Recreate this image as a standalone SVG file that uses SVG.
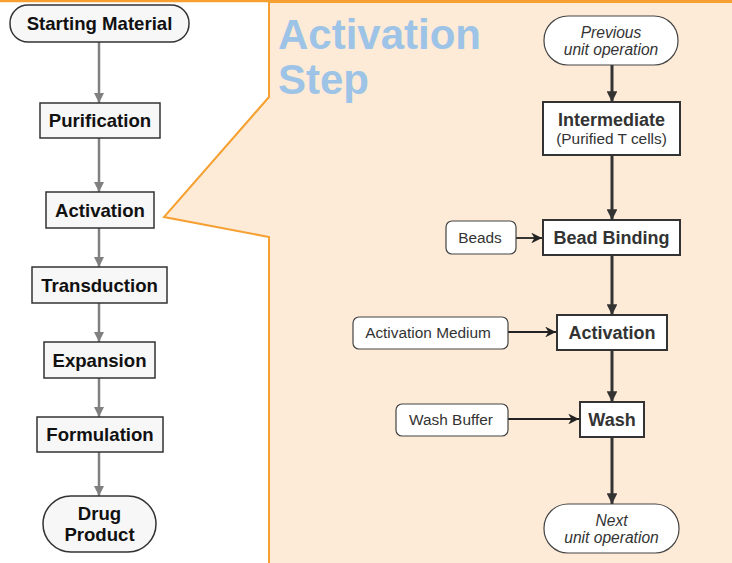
<svg xmlns="http://www.w3.org/2000/svg" width="732" height="563" viewBox="0 0 732 563">
<defs>
<marker id="ag" viewBox="0 0 10 10" refX="10" refY="5" markerWidth="4" markerHeight="4" orient="auto" markerUnits="strokeWidth"><path d="M0,0 L10,5 L0,10 z" fill="#808080"/></marker>
<marker id="ad" viewBox="0 0 10 10" refX="10" refY="5" markerWidth="3.6" markerHeight="3.6" orient="auto" markerUnits="strokeWidth"><path d="M0,0 L10,5 L0,10 z" fill="#333"/></marker>
<marker id="ah" viewBox="0 0 10 10" refX="10" refY="5" markerWidth="6" markerHeight="6" orient="auto" markerUnits="strokeWidth"><path d="M0,0 L10,5 L0,10 L3,5 z" fill="#222"/></marker>
</defs>
<style>
.ln{fill:#f7f7f7;stroke:#333;stroke-width:1.5}
.lt{font-family:"Liberation Sans",Arial,sans-serif;font-weight:bold;font-size:18.6px;fill:#111;text-anchor:middle}
.rn{fill:#fff;stroke:#333;stroke-width:2}
.rs{fill:#fff;stroke:#444;stroke-width:1.2}
.rt{font-family:"Liberation Sans",Arial,sans-serif;font-weight:bold;font-size:18px;fill:#333;text-anchor:middle}
.st{font-family:"Liberation Sans",Arial,sans-serif;font-size:15.4px;fill:#333;text-anchor:middle}
.it{font-family:"Liberation Sans",Arial,sans-serif;font-style:italic;font-size:15.6px;fill:#333;text-anchor:middle}
.cg{stroke:#808080;stroke-width:2.5;fill:none;marker-end:url(#ag)}
.cd{stroke:#333;stroke-width:3;fill:none;marker-end:url(#ad)}
.ch{stroke:#222;stroke-width:1.8;fill:none;marker-end:url(#ah)}
</style>
<rect x="0" y="0" width="732" height="563" fill="#fff"/>
<g id="panel">
<path d="M269,2 L735,2 L735,566 L269,566 L269,237 L164,217 L269,97 Z" fill="#FDEBD7" stroke="#F5A030" stroke-width="2"/>
<line x1="0" y1="1" x2="732" y2="1" stroke="#F5A030" stroke-width="2.5"/>
<text x="278" y="49" font-family="Liberation Sans,Arial,sans-serif" font-weight="bold" font-size="42" fill="#9DC3E6">Activation</text>
<text x="278" y="94" font-family="Liberation Sans,Arial,sans-serif" font-weight="bold" font-size="42" fill="#9DC3E6">Step</text>
</g>
<g id="connectors">
<line class="cg" x1="99" y1="42" x2="99" y2="103"/>
<line class="cg" x1="99" y1="138" x2="99" y2="192"/>
<line class="cg" x1="99" y1="228" x2="99" y2="267"/>
<line class="cg" x1="99" y1="303" x2="99" y2="342"/>
<line class="cg" x1="99" y1="378" x2="99" y2="417"/>
<line class="cg" x1="99" y1="452" x2="99" y2="496"/>
<line class="cd" x1="612" y1="65" x2="612" y2="102"/>
<line class="cd" x1="612" y1="155" x2="612" y2="220"/>
<line class="cd" x1="612" y1="255" x2="612" y2="315"/>
<line class="cd" x1="612" y1="350" x2="612" y2="402"/>
<line class="cd" x1="612" y1="437" x2="612" y2="504"/>
<line class="ch" x1="516" y1="238" x2="542" y2="238"/>
<line class="ch" x1="508" y1="332" x2="556" y2="332"/>
<line class="ch" x1="508" y1="419" x2="579" y2="419"/>
</g>
<g id="starting-material"><rect class="ln" x="10" y="5" width="179" height="37" rx="18"/><text class="lt" x="99.5" y="30">Starting Material</text></g>
<g id="purification"><rect class="ln" x="40" y="103" width="120" height="35"/><text class="lt" x="100" y="127">Purification</text></g>
<g id="activation-left"><rect class="ln" x="46" y="192" width="108" height="36"/><text class="lt" x="100" y="217">Activation</text></g>
<g id="transduction"><rect class="ln" x="32" y="267" width="135" height="36"/><text class="lt" x="99.5" y="292">Transduction</text></g>
<g id="expansion"><rect class="ln" x="44" y="342" width="111" height="36"/><text class="lt" x="99.5" y="367">Expansion</text></g>
<g id="formulation"><rect class="ln" x="37" y="417" width="126" height="35"/><text class="lt" x="100" y="441">Formulation</text></g>
<g id="drug-product"><rect class="ln" x="43" y="496" width="113" height="56" rx="28"/><text class="lt" x="99.5" y="520">Drug</text><text class="lt" x="99.5" y="541">Product</text></g>
<g id="previous"><rect class="rs" x="544" y="16" width="134" height="49" rx="24"/><text class="it" x="611" y="38">Previous</text><text class="it" x="611" y="55">unit operation</text></g>
<g id="intermediate"><rect class="rn" x="543" y="102" width="137" height="53"/><text class="rt" x="611.5" y="126" font-size="17">Intermediate</text><text class="st" x="611.5" y="144" font-size="15.8">(Purified T cells)</text></g>
<g id="bead-binding"><rect class="rn" x="543" y="220" width="137" height="35"/><text class="rt" x="611.5" y="244">Bead Binding</text></g>
<g id="beads"><rect class="rs" x="446" y="221" width="70" height="33" rx="6"/><text class="st" x="480" y="243">Beads</text></g>
<g id="activation-right"><rect class="rn" x="557" y="315" width="110" height="35"/><text class="rt" x="612" y="339">Activation</text></g>
<g id="activation-medium"><rect class="rs" x="353" y="317" width="155" height="32" rx="6"/><text class="st" x="428" y="338">Activation Medium</text></g>
<g id="wash"><rect class="rn" x="580" y="402" width="64" height="35"/><text class="rt" x="612" y="426">Wash</text></g>
<g id="wash-buffer"><rect class="rs" x="396" y="404" width="112" height="32" rx="6"/><text class="st" x="451" y="425">Wash Buffer</text></g>
<g id="next"><rect class="rs" x="544" y="504" width="135" height="49" rx="24"/><text class="it" x="611.5" y="526">Next</text><text class="it" x="611.5" y="543">unit operation</text></g>
</svg>
